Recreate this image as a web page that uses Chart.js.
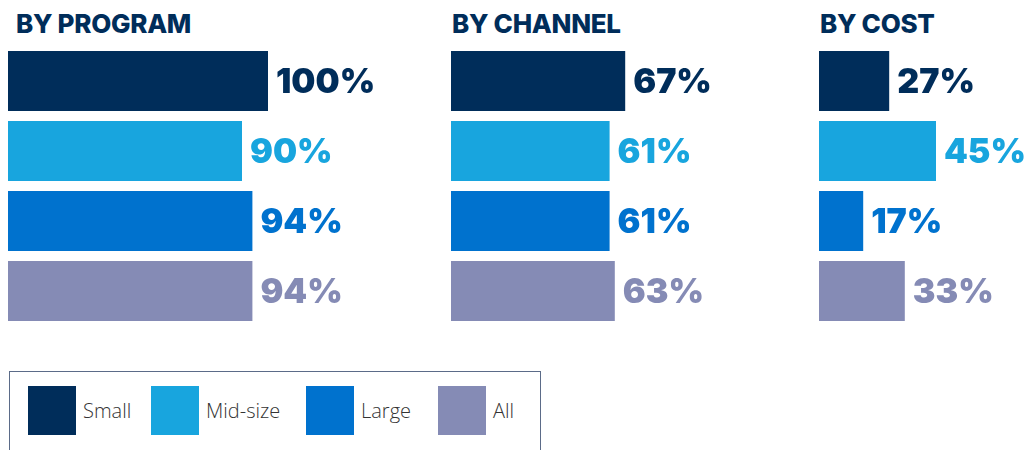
<!DOCTYPE html>
<html lang="en">
<head>
  <meta charset="UTF-8" />
  <title>By program, channel and cost</title>
  <style>
    body {
      margin: 0;
      width: 1024px;
      height: 450px;
      overflow: hidden;
      background: #fff;
      position: relative;
      font-family: 'Inter', sans-serif;
    }
    .title {
      position: absolute;
      top: 8px;
      font-size: 26px;
      font-weight: 800;
      color: #002d5a;
      letter-spacing: -0.3px;
    }
    .panel {
      position: absolute;
      top: 46px;
    }
    #legend {
      position: absolute;
      left: 9px;
      top: 371px;
      width: 532px;
      height: 100px;
      border: 1px solid #5b6b88;
      box-sizing: border-box;
    }
    .item {
      position: absolute;
      top: 14px;
      display: flex;
      align-items: center;
      font-family: 'Open Sans', sans-serif;
      font-weight: 300;
      font-size: 20px;
      color: #333;
    }
    .swatch {
      width: 48px;
      height: 49px;
      margin-right: 7px;
    }
  </style>
</head>
<body>

  <div class="title" style="left:16px">BY PROGRAM</div>
  <div class="title" style="left:452px">BY CHANNEL</div>
  <div class="title" style="left:820px">BY COST</div>

  <canvas class="panel" id="programChart" width="380" height="280" style="left:8px"></canvas>
  <canvas class="panel" id="channelChart" width="380" height="280" style="left:451px"></canvas>
  <canvas class="panel" id="costChart" width="380" height="280" style="left:819px"></canvas>

  <div id="legend"></div>

  <script src="https://cdn.jsdelivr.net/npm/chart.js"></script>
  <script>
    const categories = ['Small', 'Mid-size', 'Large', 'All'];
    const colors = ['#002d5a', '#18a5de', '#0072ce', '#858bb5'];

    const byProgram = [100, 90, 94, 94];
    const byChannel = [67, 61, 61, 63];
    const byCost = [27, 45, 17, 33];

    // left edges of legend items
    const legendX = [18, 141, 296, 428];

    // value label at the end of each bar, same colour as the bar
    const valueLabels = {
      id: 'valueLabels',
      afterDatasetsDraw(chart) {
        const ctx = chart.ctx;
        const meta = chart.getDatasetMeta(0);
        const data = chart.data.datasets[0].data;
        ctx.save();
        ctx.font = '900 34px Inter';
        ctx.textBaseline = 'middle';
        ctx.textAlign = 'left';
        meta.data.forEach((bar, i) => {
          ctx.fillStyle = colors[i];
          ctx.fillText(data[i] + '%', bar.x + 8, bar.y + 2);
        });
        ctx.restore();
      }
    };

    function makeChart(id, values) {
      return new Chart(document.getElementById(id), {
        type: 'bar',
        data: {
          labels: categories,
          datasets: [{
            data: values,
            backgroundColor: colors,
            borderWidth: 0,
            barPercentage: 60 / 70,
            categoryPercentage: 1
          }]
        },
        options: {
          indexAxis: 'y',
          responsive: false,
          animation: false,
          layout: { padding: { left: 0, right: 120, top: 0, bottom: 0 } },
          plugins: {
            legend: { display: false },
            tooltip: { enabled: false }
          },
          scales: {
            x: { min: 0, max: 100, display: false },
            y: { display: false }
          }
        },
        plugins: [valueLabels]
      });
    }

    makeChart('programChart', byProgram);
    makeChart('channelChart', byChannel);
    makeChart('costChart', byCost);

    const legend = document.getElementById('legend');
    categories.forEach((c, i) => {
      const item = document.createElement('div');
      item.className = 'item';
      item.style.left = legendX[i] + 'px';
      item.innerHTML = '<div class="swatch" style="background:' + colors[i] + '"></div><span>' + c + '</span>';
      legend.appendChild(item);
    });
  </script>
</body>
</html>
